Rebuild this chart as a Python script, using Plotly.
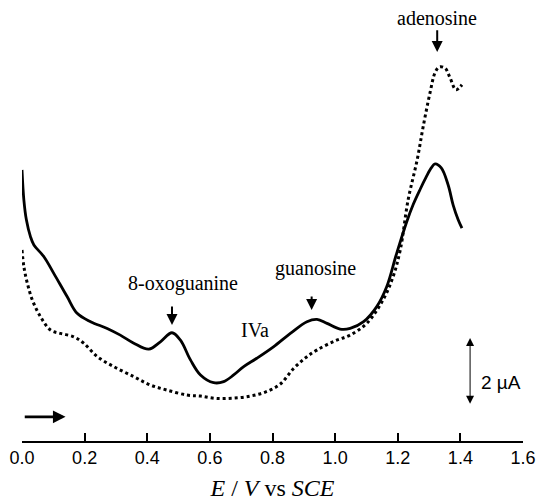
import plotly.graph_objects as go

# Potential (V vs SCE) and current (µA, arbitrary offset)
solid_E = [0.000, 0.006, 0.014, 0.027, 0.038, 0.070, 0.101, 0.144, 0.176, 0.219,
           0.272, 0.314, 0.357, 0.405, 0.442, 0.479, 0.506, 0.538, 0.570, 0.612,
           0.644, 0.676, 0.708, 0.750, 0.803, 0.857, 0.910, 0.942, 0.974, 1.016,
           1.048, 1.091, 1.133, 1.165, 1.195, 1.229, 1.249, 1.272, 1.291, 1.307,
           1.319, 1.339, 1.361, 1.377, 1.393, 1.405]
solid_I = [8.09, 7.19, 6.60, 6.10, 5.85, 5.50, 5.01, 4.31, 3.81, 3.56,
           3.36, 3.16, 2.92, 2.74, 2.96, 3.23, 3.01, 2.42, 1.97, 1.74,
           1.77, 1.97, 2.22, 2.47, 2.81, 3.21, 3.56, 3.63, 3.51, 3.34,
           3.36, 3.56, 4.01, 4.61, 5.55, 6.55, 7.05, 7.52, 7.88, 8.15,
           8.27, 8.15, 7.64, 7.04, 6.60, 6.35]

dot_E = [0.000, 0.006, 0.017, 0.033, 0.059, 0.091, 0.123, 0.165, 0.197, 0.240,
         0.293, 0.357, 0.410, 0.463, 0.527, 0.570, 0.621, 0.675, 0.729, 0.777,
         0.825, 0.866, 0.905, 0.943, 1.000, 1.048, 1.102, 1.153, 1.185, 1.208,
         1.233, 1.262, 1.281, 1.303, 1.319, 1.332, 1.351, 1.367, 1.386, 1.405]
dot_I = [5.70, 5.20, 4.71, 4.21, 3.71, 3.31, 3.21, 3.11, 2.92, 2.52,
         2.22, 1.92, 1.67, 1.52, 1.37, 1.34, 1.27, 1.28, 1.34, 1.46,
         1.70, 2.15, 2.48, 2.72, 2.99, 3.16, 3.52, 4.21, 4.90, 5.70,
         7.19, 8.39, 9.37, 10.39, 10.99, 11.16, 11.13, 10.84, 10.48, 10.63]

x_ticks = [0.0, 0.2, 0.4, 0.6, 0.8, 1.0, 1.2, 1.4, 1.6]

# peak labels: text, label position (E, I), arrow x, arrow tail I, arrow tip I
peak_text = ["adenosine", "8-oxoguanine", "guanosine"]
peak_label_E = [1.326, 0.514, 0.937]
peak_label_I = [12.63, 4.69, 5.16]
peak_arrow_E = [1.326, 0.479, 0.925]
peak_arrow_tail = [12.30, 4.06, 4.36]
peak_arrow_tip = [11.61, 3.46, 3.91]

compound_label = "IVa"
compound_E, compound_I = 0.745, 3.30

scan_arrow_E = [0.004, 0.139]
scan_arrow_I = 0.72

scale_E = 1.431
scale_I = [1.07, 3.07]
scale_text = "2 µA"
scale_text_E, scale_text_I = 1.461, 1.76

fig = go.Figure()
fig.add_trace(go.Scatter(x=dot_E, y=dot_I, mode="lines", line_shape="spline",
                         line=dict(color="black", width=3, dash="3px,3px"),
                         showlegend=False, hoverinfo="skip"))
fig.add_trace(go.Scatter(x=solid_E, y=solid_I, mode="lines", line_shape="spline",
                         line=dict(color="black", width=2.8),
                         showlegend=False, hoverinfo="skip"))

serif = "Liberation Serif, Times New Roman, serif"
sans = "Liberation Sans, Arial, sans-serif"

anns = []
for t, lx, ly, axx, tail, tip in zip(peak_text, peak_label_E, peak_label_I,
                                     peak_arrow_E, peak_arrow_tail, peak_arrow_tip):
    anns.append(dict(x=lx, y=ly, xref="x", yref="y", text=t, showarrow=False,
                     font=dict(family=serif, size=20, color="black"),
                     xanchor="center", yanchor="middle"))
    anns.append(dict(x=axx, y=tip, ax=axx, ay=tail, xref="x", yref="y",
                     axref="x", ayref="y", text="", showarrow=True,
                     arrowhead=2, arrowsize=1.1, arrowwidth=2, arrowcolor="black"))
anns.append(dict(x=compound_E, y=compound_I, xref="x", yref="y", text=compound_label,
                 showarrow=False, font=dict(family=serif, size=20, color="black"),
                 xanchor="center", yanchor="middle"))
anns.append(dict(x=scan_arrow_E[1], y=scan_arrow_I, ax=scan_arrow_E[0], ay=scan_arrow_I,
                 xref="x", yref="y", axref="x", ayref="y", text="", showarrow=True,
                 arrowhead=2, arrowsize=0.9, arrowwidth=2.8, arrowcolor="black"))
anns.append(dict(x=scale_E, y=scale_I[1], ax=scale_E, ay=scale_I[0],
                 xref="x", yref="y", axref="x", ayref="y", text="", showarrow=True,
                 arrowhead=2, arrowside="end+start", arrowsize=1.6, arrowwidth=1,
                 arrowcolor="black"))
anns.append(dict(x=scale_text_E, y=scale_text_I,
                 xref="x", yref="y", text=scale_text, showarrow=False,
                 font=dict(family=sans, size=19, color="black"),
                 xanchor="left", yanchor="middle"))

fig.update_layout(
    width=541, height=502,
    margin=dict(l=22, r=18, t=0, b=61),
    paper_bgcolor="white", plot_bgcolor="white",
    annotations=anns,
    xaxis=dict(range=[0, 1.6], tickvals=x_ticks,
               ticktext=[f"{v:.1f}" for v in x_ticks],
               ticks="inside", ticklen=8, tickwidth=1.5, tickcolor="black",
               showline=True, linecolor="black", linewidth=1.5,
               showgrid=False, zeroline=False,
               tickfont=dict(family=sans, size=18, color="black"),
               title=dict(text="<i>E</i> / <i>V</i> vs <i>SCE</i>",
                          font=dict(family=serif, size=24, color="black"),
                          standoff=12)),
    yaxis=dict(range=[0, 13.16], visible=False),
)

fig.write_html("out.html")
